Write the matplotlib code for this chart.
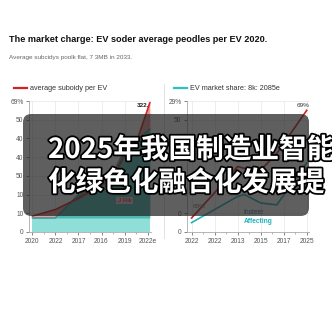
import matplotlib

matplotlib.use("Agg")
import matplotlib.pyplot as plt  # noqa: E402
import matplotlib.patheffects as pe  # noqa: E402
from matplotlib.lines import Line2D  # noqa: E402
from matplotlib.patches import FancyBboxPatch  # noqa: E402

plt.rcParams["font.family"] = ["Liberation Sans", "DejaVu Sans"]

# --- data ---
left_years = ["2020", "2022", "2017", "2016", "2019", "2022e"]
right_years = ["2022", "2022", "2013", "2015", "2017", "2025"]
y_ticks = [0, 10, 20, 30, 40, 50, 60, 70]
left_ytick_labels = ["0", "10", "10", "50", "40", "40", "50", "69%"]
# middle labels of the right axis sit under the caption box
right_ytick_labels = ["0", "0", "", "", "", "", "50", "29%"]

left_x = [0, 1, 2, 3, 3.5, 4, 4.6, 5.1]
subsidy = [8.5, 12, 18, 25, 29, 41, 51, 69]
left_share = [7.5, 7.5, 20, 28, 31, 44, 50, 55]
base_band = [7.5, 7.5, 7.5, 7.5, 7.5, 7.5, 7.5, 7.5]

right_x = [0, 1, 2, 2.3, 3, 3.7, 5]
right_red = [7.5, 21, 35, 34, 33, 42, 65]
right_teal = [5, 12, 19, 20, 15.5, 14.5, 37]

RED = "#d42222"
TEAL = "#1f9c9c"
CYAN = "#8fdfd8"
GRID = "#e6e6e6"
TICK = "#555555"

fig = plt.figure(figsize=(3.32, 3.32), dpi=100)
W = H = 332.0


def px_axes(x0, x1, ytop, ybot):
    return fig.add_axes([x0 / W, 1 - ybot / H, (x1 - x0) / W, (ybot - ytop) / H])


def style(ax, labels, ylabels):
    ax.set_ylim(0, 70)
    ax.set_yticks(y_ticks)
    ax.set_yticklabels(ylabels)
    ax.set_xticks(range(len(labels)))
    ax.set_xticklabels(labels)
    ax.set_xticks([i + 0.5 for i in range(len(labels) - 1)], minor=True)
    ax.tick_params(labelsize=4.8, colors=TICK, length=2, width=0.5, pad=2)
    ax.tick_params(which="minor", length=1.5, width=0.5, colors="#999999")
    for s in ("top", "right"):
        ax.spines[s].set_visible(False)
    for s in ("left", "bottom"):
        ax.spines[s].set_color("#aaaaaa")
        ax.spines[s].set_linewidth(0.6)
    ax.grid(True, color=GRID, linewidth=0.5)
    ax.set_axisbelow(True)


# left panel: subsidy
ax1 = px_axes(29, 151, 101, 232)
ax1.set_xlim(-0.15, 5.15)
ax1.fill_between(left_x, 0, base_band, color=CYAN, lw=0)
ax1.fill_between(left_x, base_band, left_share, color="#4fb8b0", lw=0)
ax1.fill_between(left_x, left_share, subsidy, color=RED, alpha=0.45, lw=0)
ax1.plot(left_x, left_share, color=TEAL, lw=1.0)
ax1.plot(left_x, subsidy, color=RED, lw=1.2)
ax1.text(4.55, 67, "322.", fontsize=4.6, fontweight="bold", color="#222222")
ax1.text(3.7, 16, "J Rik", fontsize=4.5, color="#b03030",
         bbox=dict(boxstyle="square,pad=0.2", fc="#f3c9c9", ec="none"))
style(ax1, left_years, left_ytick_labels)

# right panel: market share
ax2 = px_axes(187, 309, 101, 232)
ax2.set_xlim(-0.2, 5.1)
ax2.plot(right_x, right_teal, color="#22b5bd", lw=1.2)
ax2.plot(right_x, right_red, color=RED, lw=1.2)
ax2.text(4.55, 67, "69%", fontsize=4.6, color="#333333")
ax2.text(0.05, 13, "69%", fontsize=4.6, color="#777777")
ax2.text(2.25, 9.5, "Insteer", fontsize=4.8, color="#2a7a80")
ax2.text(2.25, 5, "Affecting", fontsize=4.8, color="#1fb3bb", fontweight="bold")
style(ax2, right_years, right_ytick_labels)

# legends drawn by hand, as in the reference
fig.add_artist(Line2D([14 / W, 27 / W], [1 - 88 / H] * 2, color=RED, lw=1.6))
fig.text(30 / W, 1 - 88 / H, "average suboidy per EV", fontsize=5.2,
         color="#333333", va="center")
fig.add_artist(Line2D([174 / W, 187 / W], [1 - 88 / H] * 2, color="#2cc0c0", lw=1.6))
fig.text(190 / W, 1 - 88 / H, "EV market share: 8k: 2085e", fontsize=5.2,
         color="#333333", va="center")

# panel separator
fig.add_artist(Line2D([164 / W] * 2, [1 - 84 / H, 1 - 238 / H], color="#dddddd", lw=0.6))

fig.text(9 / W, 1 - 40 / H, "The market charge: EV soder average peodles per EV 2020.",
         fontsize=6.6, fontweight="bold", color="#111111", va="center")
fig.text(9 / W, 1 - 57 / H, "Average subcidys poolk flat, 7 3MB in 2033.",
         fontsize=4.6, color="#666666", va="center")

# dark caption box over the charts
box = FancyBboxPatch((23 / W, 1 - 216 / H), (309 - 23) / W, (216 - 114) / H,
                     boxstyle="round,pad=0,rounding_size=0.025",
                     transform=fig.transFigure, fc="#222222", ec="none", alpha=0.72,
                     zorder=5)
fig.add_artist(box)
stroke = [pe.withStroke(linewidth=2.5, foreground="black")]
for txt, ypx in (("2025年我国制造业智能", 150), ("化绿色化融合化发展提", 183)):
    fig.text(48 / W, 1 - ypx / H, txt, fontsize=19.9, fontweight="bold", color="white",
             family=["Noto Sans CJK SC", "DejaVu Sans"], va="center", zorder=6,
             path_effects=stroke)

fig.savefig("out.png", dpi=100)
